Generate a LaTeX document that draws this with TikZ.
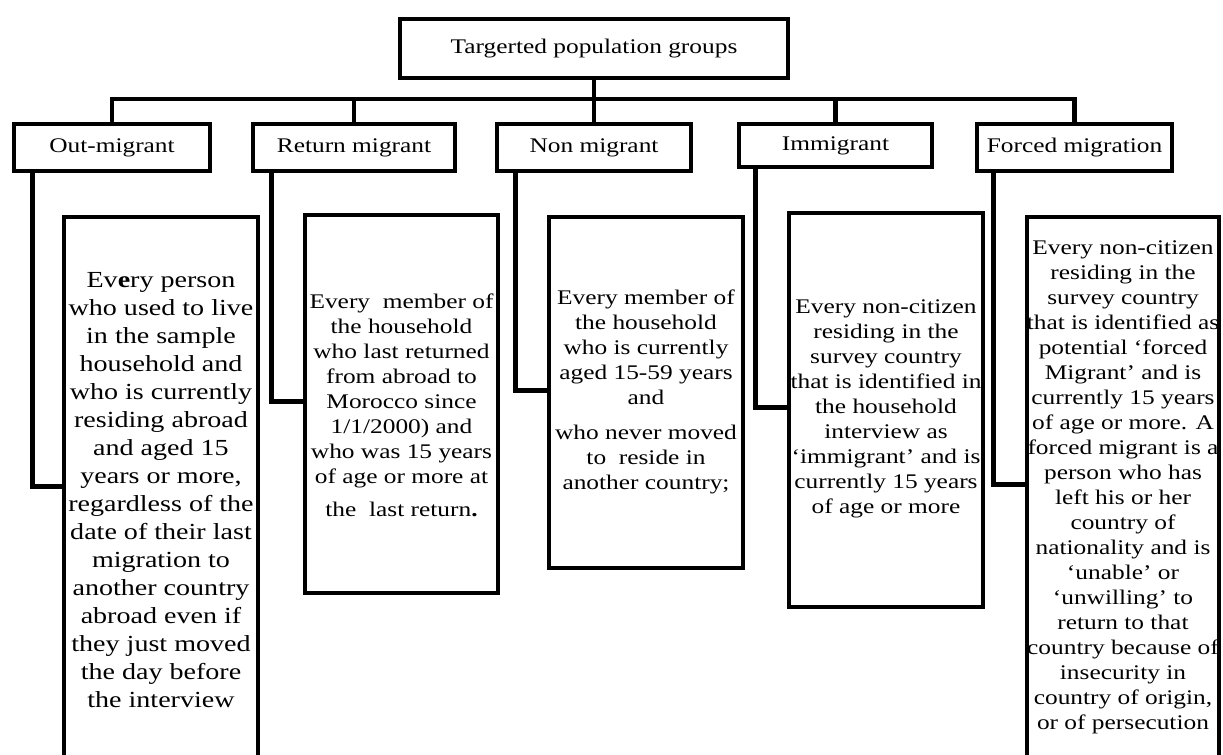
\documentclass[tikz,border=0pt]{standalone}
\usepackage{fontspec}
\setmainfont{Liberation Serif}[FakeStretch=1.22]
\usetikzlibrary{calc}
\begin{document}
\begin{tikzpicture}[x=0.5pt,y=-0.5pt,
  box/.style={draw=black, rectangle, inner sep=0pt, line width=2.3pt},
  sz/.style 2 args={minimum width=#1*0.5pt, minimum height=#2*0.5pt},
  lbl/.style={box, font=\fontsize{10.4}{12.5}\selectfont},
  dtext/.style={align=center, inner sep=0pt, font=\fontsize{10.4}{12.5}\selectfont},
  bigtext/.style={align=center, inner sep=0pt, font=\fontsize{11.5}{14}\selectfont},
  conn/.style={draw=black, line width=2.3pt}]
\useasboundingbox (0,0) rectangle (1223,755);
\clip (0,0) rectangle (1223,755);

% top
\node[lbl, sz={388}{59}] (top) at (594,48.5) {Targerted population groups};

% level 2
\node[lbl, sz={196}{47}] (out) at (112,147.5) {Out-migrant};
\node[lbl, sz={202}{47}] (ret) at (354,147.5) {Return migrant};
\node[lbl, sz={194}{47}] (non) at (594,147.5) {Non migrant};
\node[lbl, sz={193}{43}] (imm) at (835.5,145.5) {Immigrant};
\node[lbl, sz={195}{47}] (frc) at (1074.5,147.5) {Forced migration};

% bus
\coordinate (busL) at (112,99);
\coordinate (busR) at (1074.5,99);
\draw[conn] (out.north) -- (busL) -- (busR) -- (frc.north);
\draw[conn] (top.south) -- (non.north);
\draw[conn] (ret.north) -- (ret.north |- busL);
\draw[conn] (imm.north) -- (imm.north |- busL);

% detail boxes
\node[box, sz={194}{563}] (outD) at (161,498.5) {};
\node[box, sz={193}{378}] (retD) at (401.5,404) {};
\node[box, sz={194}{351}] (nonD) at (646,392.5) {};
\node[box, sz={194}{394}] (immD) at (886,410) {};
\node[box, sz={192}{563}] (frcD) at (1123,498.5) {};

% side connectors
\draw[conn] ($(out.south west)+(21,0)$) |- ($(outD.north west)+(0,272)$);
\draw[conn] ($(ret.south west)+(21,0)$) |- ($(retD.north west)+(0,189)$);
\draw[conn] ($(non.south west)+(21,0)$) |- ($(nonD.north west)+(0,176)$);
\draw[conn] ($(imm.south west)+(19,0)$) |- ($(immD.north west)+(0,197)$);
\draw[conn] ($(frc.south west)+(19,0)$) |- ($(frcD.north west)+(0,270)$);

% texts
\node[bigtext] (outT) at (161,490) {Ev\textbf{e}ry person\\who used to live\\in the sample\\household and\\who is currently\\residing abroad\\and aged 15\\years or more,\\regardless of the\\date of their last\\migration to\\another country\\abroad even if\\they just moved\\the day before\\the interview};

\node[dtext] (retT) at (401.5,405) {Every~ member of\\the household\\who last returned\\from abroad to\\Morocco since\\1/1/2000) and\\who was 15 years\\of age or more at\\[4pt]the~ last return\textbf{.}};

\node[dtext] (nonT) at (646,392) {Every member of\\the household\\who is currently\\aged 15-59 years\\and\\[5pt]who never moved\\to~ reside in\\another country;};

\node[dtext] (immT) at (886,409) {Every non-citizen\\residing in the\\survey country\\that is identified in\\the household\\interview as\\‘immigrant’ and is\\currently 15 years\\of age or more};

\node[dtext] (frcT) at (1123,487) {Every non-citizen\\residing in the\\survey country\\that is identified as\\potential ‘forced\\Migrant’ and is\\currently 15 years\\of age or more. A\\forced migrant is a\\person who has\\left his or her\\country of\\nationality and is\\‘unable’ or\\‘unwilling’ to\\return to that\\country because of\\insecurity in\\country of origin,\\or of persecution};
\end{tikzpicture}
\end{document}
